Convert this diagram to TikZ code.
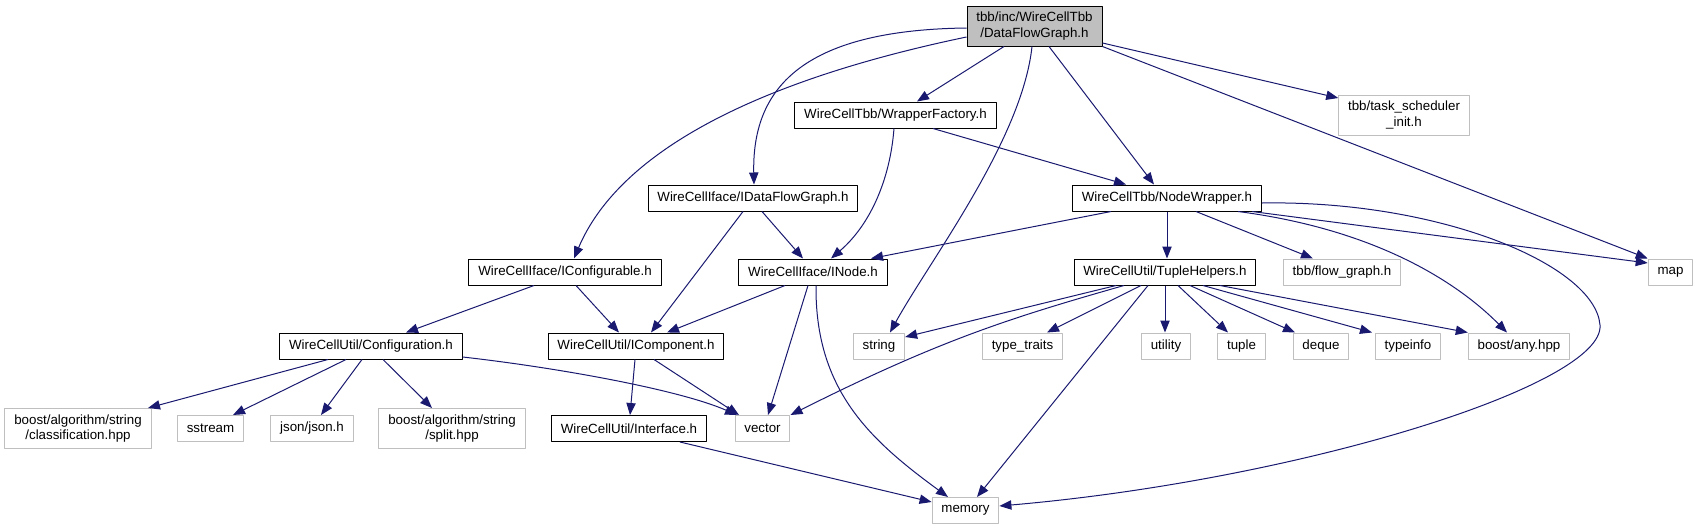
\documentclass[tikz,border=0pt]{standalone}
\usepackage{fontspec}
\setmainfont{Liberation Sans}
\usetikzlibrary{arrows.meta}
\definecolor{DoxEdge}{HTML}{191970}
\definecolor{DoxGray}{HTML}{BFBFBF}

\tikzset{
  file/.style={draw=black,line width=0.75pt,fill=white,font=\fontsize{10}{11.5}\selectfont,
    inner xsep=7pt,inner ysep=2pt,minimum height=19.5pt,align=center},
  extfile/.style={file,draw=DoxGray},
  twoline/.style={minimum height=30pt},
  dep/.style={draw=DoxEdge,line width=0.75pt,-{Triangle[length=9pt,width=7pt]}}
}

\begin{document}
\begin{tikzpicture}[x=0.75pt,y=-0.75pt,line join=round]
  \useasboundingbox (0,0) rectangle (1697,529);

  % row 1
  \node[file,twoline,fill=DoxGray] (root) at (1034.5,26) {tbb/inc/WireCellTbb\\/DataFlowGraph.h};
  \node[extfile,twoline] (task) at (1404,115) {tbb/task\_scheduler\\\_init.h};
  \node[file] (wf) at (895.5,115) {WireCellTbb/WrapperFactory.h};
  \node[file] (idfg) at (753,198) {WireCellIface/IDataFlowGraph.h};
  \node[file] (nw) at (1167,198) {WireCellTbb/NodeWrapper.h};
  % row 3
  \node[file] (iconf) at (565,272) {WireCellIface/IConfigurable.h};
  \node[file] (inode) at (813,272) {WireCellIface/INode.h};
  \node[file] (th) at (1165,272) {WireCellUtil/TupleHelpers.h};
  \node[extfile] (flow) at (1342,272) {tbb/flow\_graph.h};
  \node[extfile] (map) at (1670.5,272) {map};
  % row 4
  \node[file] (conf) at (371,346) {WireCellUtil/Configuration.h};
  \node[file] (icomp) at (636,346) {WireCellUtil/IComponent.h};
  \node[extfile] (string) at (879,346) {string};
  \node[extfile] (typetraits) at (1022.5,346) {type\_traits};
  \node[extfile] (utility) at (1166,346) {utility};
  \node[extfile] (tuple) at (1241.5,346) {tuple};
  \node[extfile] (deque) at (1321,346) {deque};
  \node[extfile] (typeinfo) at (1408,346) {typeinfo};
  \node[extfile] (any) at (1519,346) {boost/any.hpp};
  % row 5
  \node[extfile,twoline] (class) at (78,428.5) {boost/algorithm/string\\/classification.hpp};
  \node[extfile] (sstream) at (210.5,428.5) {sstream};
  \node[extfile] (json) at (312,428.5) {json/json.h};
  \node[extfile,twoline] (split) at (452,428.5) {boost/algorithm/string\\/split.hpp};
  \node[file] (iface) at (629,428.5) {WireCellUtil/Interface.h};
  \node[extfile] (vector) at (762.5,428.5) {vector};
  \node[extfile] (memory) at (965.5,510.5) {memory};

  % includes of DataFlowGraph.h
  \draw[dep] (root.south -| 1004,0) -- (wf.north -| 917,0);
  \draw[dep] (root.west |- 0,28) .. controls (800,30) and (752,90) .. (idfg.north -| 754,0);
  \draw[dep] (root.west |- 0,37) .. controls (760,80) and (620,150) .. (iconf.north -| 574,0);
  \draw[dep] (root.south -| 1032,0) .. controls (1022,140) and (930,260) .. (string.north -| 890,0);
  \draw[dep] (root.south -| 1049,0) -- (nw.north -| 1154,0);
  \draw[dep] (root.east |- 0,43) -- (task.west |- 0,98);
  \draw[dep] (root.south east) -- (map.north west);

  \draw[dep] (wf.south -| 933,0) -- (nw.north -| 1126,0);
  \draw[dep] (wf.south -| 894,0) .. controls (890,180) and (870,225) .. (inode.north -| 831,0);
  \draw[dep] (idfg.south -| 762,0) -- (inode.north -| 803,0);
  \draw[dep] (idfg.south -| 743,0) -- (icomp.north -| 651,0);

  % NodeWrapper.h
  \draw[dep] (nw.south -| 1111,0) -- (inode.north -| 871,0);
  \draw[dep] (nw.south -| 1167,0) -- (th.north -| 1167,0);
  \draw[dep] (nw.south -| 1196,0) -- (flow.north -| 1313,0);
  \draw[dep] (nw.south -| 1238,0) .. controls (1380,230) and (1460,285) .. (any.north -| 1507,0);
  \draw[dep] (nw.south -| 1252,0) -- (map.west |- 0,263);
  \draw[dep] (nw.east |- 0,203) .. controls (1440,200) and (1595,265) .. (1600,325)
    .. controls (1605,385) and (1300,480) .. (memory.east |- 0,506);

  \draw[dep] (iconf.south -| 534,0) -- (conf.north -| 406,0);
  \draw[dep] (iconf.south -| 576,0) -- (icomp.north -| 619,0);
  \draw[dep] (inode.south -| 785,0) -- (icomp.north -| 667,0);
  \draw[dep] (inode.south -| 808,0) -- (vector.north -| 768,0);
  \draw[dep] (inode.south -| 816,0) .. controls (815,390) and (870,440) .. (memory.north -| 948,0);

  % TupleHelpers.h
  \draw[dep] (th.south -| 1116,0) -- (string.east |- 0,337);
  \draw[dep] (th.south -| 1124,0) .. controls (1010,318) and (940,340) .. (vector.north east);
  \draw[dep] (th.south -| 1141,0) -- (typetraits.north -| 1047,0);
  \draw[dep] (th.south -| 1148,0) -- (memory.north -| 977,0);
  \draw[dep] (th.south -| 1165,0) -- (utility.north -| 1165,0);
  \draw[dep] (th.south -| 1178,0) -- (tuple.north -| 1228,0);
  \draw[dep] (th.south -| 1190,0) -- (deque.north -| 1295,0);
  \draw[dep] (th.south -| 1203,0) -- (typeinfo.north -| 1372,0);
  \draw[dep] (th.south -| 1220,0) -- (any.north west);

  % Configuration.h
  \draw[dep] (conf.south -| 328,0) -- (class.north -| 148,0);
  \draw[dep] (conf.south -| 346,0) -- (sstream.north -| 233,0);
  \draw[dep] (conf.south -| 362,0) -- (json.north -| 321,0);
  \draw[dep] (conf.south -| 383,0) -- (split.north -| 432,0);
  \draw[dep] (conf.east |- 0,357) .. controls (560,368) and (680,390) .. (vector.north -| 737,0);

  \draw[dep] (icomp.south -| 635,0) -- (iface.north -| 630,0);
  \draw[dep] (icomp.south -| 654,0) -- (vector.north -| 739,0);
  \draw[dep] (iface.south -| 680,0) -- (memory.west |- 0,502);
\end{tikzpicture}
\end{document}
